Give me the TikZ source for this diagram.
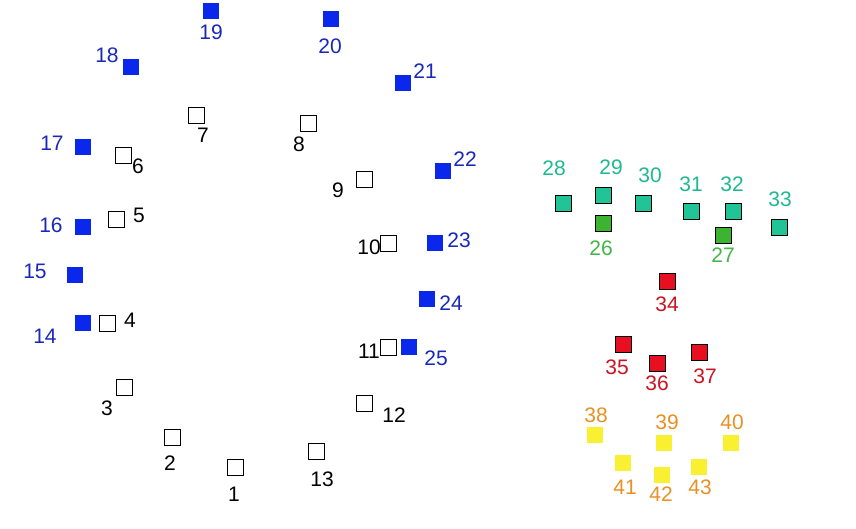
\documentclass[tikz,border=0pt]{standalone}
\usepackage{fontspec}
\setmainfont{Liberation Sans}
\definecolor{bfill}{RGB}{10,40,235}
\definecolor{blab}{RGB}{25,40,185}
\definecolor{tfill}{RGB}{32,196,150}
\definecolor{tlab}{RGB}{30,185,140}
\definecolor{gfill}{RGB}{60,180,50}
\definecolor{glab}{RGB}{70,180,70}
\definecolor{rfill}{RGB}{232,16,32}
\definecolor{rlab}{RGB}{200,20,35}
\definecolor{yfill}{RGB}{250,240,50}
\definecolor{ylab}{RGB}{232,145,35}
\tikzset{
  sq/.style={rectangle,minimum size=16pt,inner sep=0pt,line width=0.8pt},
  opensq/.style={sq,draw=black,fill=white},
  bluesq/.style={sq,fill=bfill},
  tealsq/.style={sq,draw=black,fill=tfill},
  greensq/.style={sq,draw=black,fill=gfill},
  redsq/.style={sq,draw=black,fill=rfill},
  yelsq/.style={sq,fill=yfill},
  lab/.style={inner sep=0pt,font=\fontsize{21}{21}\selectfont},
  blacklab/.style={lab,text=black},
  bluelab/.style={lab,text=blab},
  teallab/.style={lab,text=tlab},
  greenlab/.style={lab,text=glab},
  redlab/.style={lab,text=rlab},
  yellab/.style={lab,text=ylab},
}
\newcommand{\pnt}[7]{%
  \node[#6sq] (s#1) at (#2,#3) {};
  \node[#7lab] (t#1) at (#4,#5) {#1};
}
\begin{document}
\begin{tikzpicture}[x=1pt,y=-1pt]
\useasboundingbox[fill=white] (0,0) rectangle (856,529);
% open squares
\pnt{1}{235}{467}{234}{494}{open}{black}
\pnt{2}{172}{437}{170}{463}{open}{black}
\pnt{3}{124}{387}{107}{408}{open}{black}
\pnt{4}{107}{323}{130}{320}{open}{black}
\pnt{5}{116}{219}{139}{215}{open}{black}
\pnt{6}{123}{155}{138}{166}{open}{black}
\pnt{7}{196}{115}{203}{135}{open}{black}
\pnt{8}{308}{123}{299}{144}{open}{black}
\pnt{9}{364}{179}{338}{190}{open}{black}
\pnt{10}{388}{243}{369}{247}{open}{black}
\pnt{11}{388}{347}{369}{351}{open}{black}
\pnt{12}{364}{403}{394}{415}{open}{black}
\pnt{13}{316}{451}{322}{479}{open}{black}
% blue
\pnt{14}{83}{323}{45}{336}{blue}{blue}
\pnt{15}{75}{275}{35}{271}{blue}{blue}
\pnt{16}{83}{227}{51}{225}{blue}{blue}
\pnt{17}{83}{147}{52}{143}{blue}{blue}
\pnt{18}{131}{67}{107}{55}{blue}{blue}
\pnt{19}{211}{11}{211}{32}{blue}{blue}
\pnt{20}{331}{19}{330}{46}{blue}{blue}
\pnt{21}{403}{83}{425}{71}{blue}{blue}
\pnt{22}{443}{171}{465}{159}{blue}{blue}
\pnt{23}{435}{243}{459}{240}{blue}{blue}
\pnt{24}{427}{299}{451}{303}{blue}{blue}
\pnt{25}{409}{347}{436}{358}{blue}{blue}
% green
\pnt{26}{603}{223}{601}{248}{green}{green}
\pnt{27}{723}{235}{723}{255}{green}{green}
% teal
\pnt{28}{563}{203}{554}{168}{teal}{teal}
\pnt{29}{603}{195}{611}{167}{teal}{teal}
\pnt{30}{643}{203}{650}{175}{teal}{teal}
\pnt{31}{691}{211}{691}{184}{teal}{teal}
\pnt{32}{733}{211}{732}{184}{teal}{teal}
\pnt{33}{779}{227}{780}{199}{teal}{teal}
% red
\pnt{34}{667}{281}{667}{304}{red}{red}
\pnt{35}{623}{344}{617}{367}{red}{red}
\pnt{36}{657}{363}{657}{383}{red}{red}
\pnt{37}{699}{352}{705}{376}{red}{red}
% yellow
\pnt{38}{595}{435}{596}{415}{yel}{yel}
\pnt{39}{664}{443}{667}{422}{yel}{yel}
\pnt{40}{731}{443}{732}{422}{yel}{yel}
\pnt{41}{623}{463}{625}{487}{yel}{yel}
\pnt{42}{662}{475}{661}{494}{yel}{yel}
\pnt{43}{699}{467}{700}{487}{yel}{yel}
\end{tikzpicture}
\end{document}
